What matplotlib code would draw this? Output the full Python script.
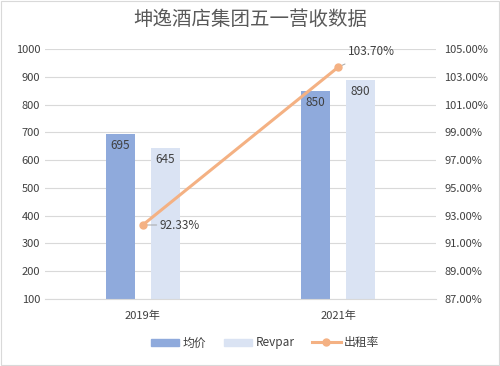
import matplotlib
matplotlib.use("Agg")
import matplotlib.pyplot as plt
from matplotlib.patches import Rectangle
from matplotlib.lines import Line2D
from matplotlib.patches import Patch
import numpy as np

plt.rcParams['font.family'] = ['Noto Sans CJK SC', 'DejaVu Sans']

categories = ['2019年', '2021年']
avg_price = [695, 850]
revpar = [645, 890]
occupancy = [92.33, 103.70]
title = '坤逸酒店集团五一营收数据'

C_BLUE = '#8faadc'
C_LIGHT = '#dae3f3'
C_ORANGE = '#f4b183'
C_TEXT = '#404040'
C_GRID = '#d9d9d9'

fig = plt.figure(figsize=(5.0, 3.66), dpi=100)
ax = fig.add_axes([0.09, 0.183, 0.782, 0.683])
ax2 = ax.twinx()

x = np.arange(len(categories))
w = 0.15
off = 0.115
b1 = ax.bar(x - off, avg_price, w, color=C_BLUE, zorder=2)
b2 = ax.bar(x + off, revpar, w, color=C_LIGHT, zorder=2)
for rect, v in zip(b1, avg_price):
    ax.text(rect.get_x() + rect.get_width() / 2, v - 18, str(v), ha='center', va='top',
            fontsize=8.5, color=C_TEXT, zorder=5)
for rect, v in zip(b2, revpar):
    ax.text(rect.get_x() + rect.get_width() / 2, v - 18, str(v), ha='center', va='top',
            fontsize=8.5, color=C_TEXT, zorder=5)

ax.set_xlim(-0.5, 1.5)
ax.set_ylim(100, 1000)
ax.set_yticks(np.arange(100, 1001, 100))
ax.set_xticks(x)
ax.set_xticklabels(categories)
ax.grid(axis='y', color=C_GRID, linewidth=0.8, zorder=0)
ax.set_axisbelow(True)
for s in ['top', 'left', 'right']:
    ax.spines[s].set_visible(False)
ax.spines['bottom'].set_color(C_GRID)
ax.tick_params(axis='both', length=0, labelsize=8, colors=C_TEXT)
ax.tick_params(axis='x', pad=8)

ax2.plot(x, occupancy, color=C_ORANGE, linewidth=2.2, marker='o', markersize=5, zorder=4)
ax2.set_ylim(87, 105)
ax2.set_yticks(np.arange(87, 105.1, 2))
ax2.set_yticklabels([f'{v:.2f}%' for v in np.arange(87, 105.1, 2)])
ax2.tick_params(axis='y', length=0, labelsize=8, colors=C_TEXT, pad=6)
for s in ['top', 'left', 'right', 'bottom']:
    ax2.spines[s].set_visible(False)

# data labels for line
ax2.annotate(f'{occupancy[0]:.2f}%', xy=(x[0], occupancy[0]), xytext=(12, 0),
             textcoords='offset points', ha='left', va='center', fontsize=8.5, color=C_TEXT,
             arrowprops=dict(arrowstyle='-', color='#a6a6a6', lw=0.7, shrinkA=0, shrinkB=3))
ax2.annotate(f'{occupancy[1]:.2f}%', xy=(x[1], occupancy[1]), xytext=(24, 11),
             textcoords='offset points', ha='center', va='center', fontsize=8.5, color=C_TEXT,
             arrowprops=dict(arrowstyle='-', color='#a6a6a6', lw=0.7, shrinkA=5, shrinkB=3))

fig.suptitle(title, x=0.5, y=0.975, fontsize=14, color='#595959')

handles = [Patch(color=C_BLUE), Patch(color=C_LIGHT),
           Line2D([0], [0], color=C_ORANGE, lw=2.2, marker='o', markersize=5)]
fig.legend(handles, ['均价', 'Revpar', '出租率'], loc='center', bbox_to_anchor=(0.53, 0.063),
           ncol=3, frameon=False, fontsize=8.5, handlelength=2.4, handleheight=0.6,
           columnspacing=1.5, handletextpad=0.3, labelcolor=C_TEXT)

fig.patches.append(Rectangle((0.002, 0.003), 0.996, 0.994, transform=fig.transFigure,
                             fill=False, edgecolor='#d9d9d9', linewidth=0.8))

fig.savefig('out.png', dpi=100, facecolor='white')
